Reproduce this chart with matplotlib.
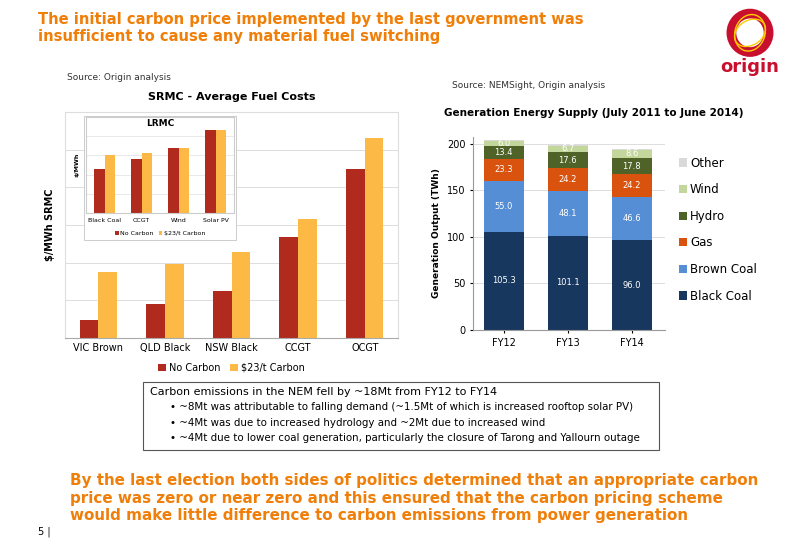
import numpy as np
import matplotlib.pyplot as plt
from matplotlib.patches import Rectangle, Ellipse

# SRMC chart data (relative, no units shown)
srmc_cats = ['VIC Brown', 'QLD Black', 'NSW Black', 'CCGT', 'OCGT']
srmc_no_carbon = [4.8, 9.0, 12.5, 26.9, 45.0]
srmc_carbon = [17.5, 19.7, 22.9, 31.6, 53.0]

# LRMC inset data
lrmc_cats = ['Black Coal', 'CCGT', 'Wind', 'Solar PV']
lrmc_no_carbon = [46, 56, 68, 86]
lrmc_carbon = [60, 62, 68, 86]

# generation supply data (TWh)
years = ['FY12', 'FY13', 'FY14']
black_coal = [105.3, 101.1, 96.0]
brown_coal = [55.0, 48.1, 46.6]
gas = [23.3, 24.2, 24.2]
hydro = [13.4, 17.6, 17.8]
wind = [6.0, 6.7, 8.6]
other = [0.8, 0.5, 0.6]

orange = '#f07f09'
red = '#b02a1e'
gold = '#fdb945'

W, H = 800, 554
fig = plt.figure(figsize=(8, 5.54), dpi=100)

def box(x0, y0, x1, y1):
    # pixel box -> figure fraction
    return [x0 / W, 1 - y1 / H, (x1 - x0) / W, (y1 - y0) / H]

fig.text(38 / W, 1 - 28 / H, 'The initial carbon price implemented by the last government was\ninsufficient to cause any material fuel switching',
         color=orange, fontsize=10.6, fontweight='bold', va='center', linespacing=1.15)

# logo
logo = fig.add_axes(box(720, 8, 780, 70))
logo.set_xlim(0, 1); logo.set_ylim(0, 1); logo.axis('off')
logo.add_patch(Ellipse((0.5, 0.6), 0.62, 0.62, fill=False, lw=7, color='#c8102e'))
logo.add_patch(Ellipse((0.5, 0.6), 0.55, 0.4, angle=30, fill=False, lw=1, color='#ffcc00'))
logo.add_patch(Ellipse((0.5, 0.6), 0.5, 0.6, angle=-20, fill=False, lw=1, color='#ffcc00'))
logo.text(0.5, 0.05, 'origin', color='#c8102e', fontsize=13, fontweight='bold', ha='center', va='center')

# ---- left SRMC chart
fig.text(67 / W, 1 - 80 / H, 'Source: Origin analysis', fontsize=6.5, color='#333333')
fig.text(232 / W, 1 - 97 / H, 'SRMC - Average Fuel Costs', fontsize=8, fontweight='bold', ha='center', va='center')
ax = fig.add_axes(box(65, 112, 398, 338))
x = np.arange(len(srmc_cats))
ax.bar(x - 0.14, srmc_no_carbon, 0.28, color=red, label='No Carbon')
ax.bar(x + 0.14, srmc_carbon, 0.28, color=gold, label='$23/t Carbon')
ax.set_ylim(0, 60)
ax.set_xlim(-0.5, 4.5)
ax.set_yticks(np.arange(0, 61, 10))
ax.set_yticklabels([])
ax.tick_params(axis='y', length=0)
ax.grid(axis='y', color='#dddddd', lw=0.7)
ax.set_axisbelow(True)
ax.set_xticks(x)
ax.set_xticklabels(srmc_cats, fontsize=7)
ax.tick_params(axis='x', length=0)
for s in ['top', 'right', 'left']:
    ax.spines[s].set_color('#dddddd')
ax.spines['bottom'].set_color('#aaaaaa')
ax.set_ylabel('$/MWh SRMC', fontsize=7, fontweight='bold')
ax.legend(loc='upper center', bbox_to_anchor=(0.5, -0.07), ncol=2, frameon=False, fontsize=7,
          handlelength=0.8, handletextpad=0.3, columnspacing=1.0)

# inset LRMC
fig.patches.append(Rectangle((84 / W, 1 - 240 / H), 152 / W, 124 / H, transform=fig.transFigure,
                             facecolor='white', edgecolor='#cccccc', lw=0.7, zorder=5))
ins = fig.add_axes(box(86, 117, 234, 213))
ins.set_zorder(6)
xi = np.arange(len(lrmc_cats))
ins.bar(xi - 0.14, lrmc_no_carbon, 0.28, color=red, label='No Carbon')
ins.bar(xi + 0.14, lrmc_carbon, 0.28, color=gold, label='$23/t Carbon')
ins.set_ylim(0, 100)
ins.set_xlim(-0.5, 3.5)
ins.set_yticks(np.arange(0, 101, 20))
ins.set_yticklabels([])
ins.tick_params(length=0)
ins.grid(axis='y', color='#e5e5e5', lw=0.6)
ins.set_axisbelow(True)
ins.set_xticks(xi)
ins.set_xticklabels(lrmc_cats, fontsize=4.5)
ins.text(0.5, 0.93, 'LRMC', transform=ins.transAxes, fontsize=6.5, fontweight='bold', ha='center', va='center')
ins.set_ylabel('$/MWh', fontsize=4.5, fontweight='bold', labelpad=1)
for s in ins.spines.values():
    s.set_color('#cccccc')
ins.legend(loc='upper center', bbox_to_anchor=(0.5, -0.13), ncol=2, frameon=False, fontsize=4.5,
           handlelength=0.6, handletextpad=0.2, columnspacing=0.8)

# ---- right generation chart
fig.text(452 / W, 1 - 88 / H, 'Source: NEMSight, Origin analysis', fontsize=6.5, color='#333333')
fig.text(594 / W, 1 - 113 / H, 'Generation Energy Supply (July 2011 to June 2014)', fontsize=7.5,
         fontweight='bold', ha='center', va='center')
ax2 = fig.add_axes(box(473, 137, 665, 330))
xg = np.arange(len(years))
series = [('Black Coal', black_coal, '#17375e', 'white'),
          ('Brown Coal', brown_coal, '#558ed5', 'white'),
          ('Gas', gas, '#d9530f', 'white'),
          ('Hydro', hydro, '#4f6228', 'white'),
          ('Wind', wind, '#c3d69b', 'white'),
          ('Other', other, '#d9d9d9', None)]
bottom = np.zeros(3)
handles = []
for name, vals, col, tc in series:
    b = ax2.bar(xg, vals, 0.63, bottom=bottom, color=col, label=name)
    handles.append(b)
    if tc:
        for i, v in enumerate(vals):
            ax2.text(xg[i], bottom[i] + v / 2, f'{v:.1f}', color=tc, fontsize=6, ha='center', va='center')
    bottom += np.array(vals)
ax2.set_ylim(0, 207)
ax2.set_xlim(-0.48, 2.52)
ax2.set_yticks([0, 50, 100, 150, 200])
ax2.tick_params(labelsize=7, length=2)
ax2.set_xticks(xg)
ax2.set_xticklabels(years)
ax2.grid(axis='y', color='#dddddd', lw=0.7)
ax2.set_axisbelow(True)
for s in ['top', 'right']:
    ax2.spines[s].set_visible(False)
ax2.spines['left'].set_color('#999999')
ax2.spines['bottom'].set_color('#999999')
ax2.set_ylabel('Generation Output (TWh)', fontsize=6.5, fontweight='bold')
ax2.legend(handles[::-1], [s[0] for s in series][::-1], loc='center left', bbox_to_anchor=(1.02, 0.52),
           frameon=False, fontsize=8.5, handlelength=0.6, handleheight=0.7, handletextpad=0.3, labelspacing=1.15)

# ---- text box
fig.patches.append(Rectangle((143 / W, 1 - 450 / H), 516 / W, 68 / H, transform=fig.transFigure,
                             facecolor='white', edgecolor='#555555', lw=0.8))
fig.text(150 / W, 1 - 392 / H, 'Carbon emissions in the NEM fell by ~18Mt from FY12 to FY14', fontsize=8, va='center')
bullets = ['~8Mt was attributable to falling demand (~1.5Mt of which is increased rooftop solar PV)',
           '~4Mt was due to increased hydrology and ~2Mt due to increased wind',
           '~4Mt due to lower coal generation, particularly the closure of Tarong and Yallourn outage']
for i, b in enumerate(bullets):
    fig.text(170 / W, 1 - (407 + i * 15.5) / H, '\u2022 ' + b, fontsize=7.4, va='center')

fig.text(70 / W, 1 - 498 / H, 'By the last election both sides of politics determined that an appropriate carbon\n'
         'price was zero or near zero and this ensured that the carbon pricing scheme\n'
         'would make little difference to carbon emissions from power generation',
         color=orange, fontsize=10.9, fontweight='bold', va='center', linespacing=1.2)
fig.text(38 / W, 1 - 532 / H, '5 |', fontsize=7, va='center')

fig.savefig('out.png', dpi=100)
